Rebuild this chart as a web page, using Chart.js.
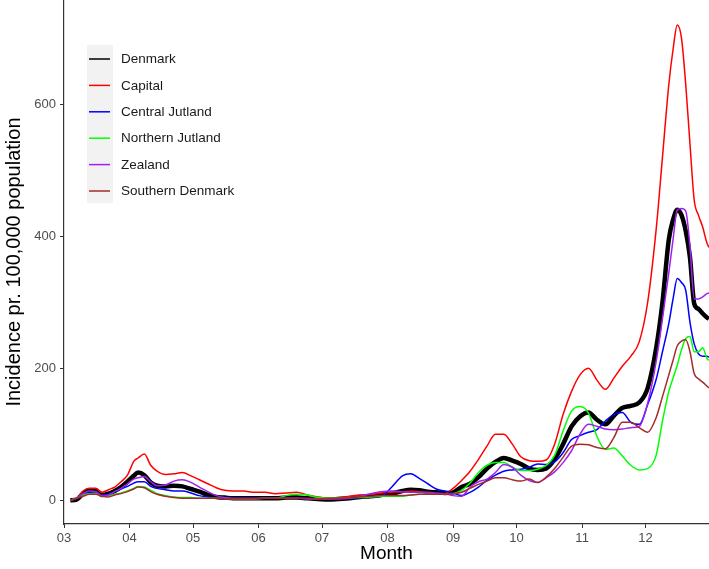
<!DOCTYPE html>
<html>
<head>
<meta charset="utf-8">
<title>Incidence by region</title>
<script src="https://cdn.jsdelivr.net/npm/chart.js@4.4.0/dist/chart.umd.min.js"></script>
<style>
  body { margin: 0; background: #fff; }
  #wrap { width: 709px; height: 569px; }
</style>
</head>
<body>
<div id="wrap"><canvas id="chart" width="709" height="569"></canvas></div>
<script>
/* Data: x = days since 1 March 2020, y = incidence pr. 100,000 */
const days = [3, 6, 9, 12, 15, 18, 21, 24, 27, 30,
  33, 35, 38, 41, 44, 48, 52, 56, 60, 64,
  68, 72, 76, 80, 85, 90, 95, 100, 105, 110,
  115, 120, 125, 130, 135, 140, 145, 150, 155, 160,
  164, 168, 172, 176, 180, 184, 188, 192, 196, 200,
  204, 208, 212, 216, 220, 224, 228, 232, 236, 240,
  244, 248, 252, 256, 260, 264, 268, 272, 276, 280,
  283, 286, 288, 290, 292, 294, 296, 298, 300, 302,
  304, 305];

const denmark = [0, 1, 10, 15, 15, 8, 10, 14, 20, 28,
  37, 42, 38, 27, 22, 21, 22, 21, 17, 13,
  8, 5, 4, 3, 3, 3, 3, 3, 4, 4,
  3, 2, 1, 2, 3, 5, 6, 8, 10, 14,
  16, 15, 13, 12, 11, 12, 20, 25, 35, 48,
  58, 64, 60, 55, 48, 46, 48, 62, 85, 112,
  127, 133, 122, 115, 128, 140, 143, 148, 170, 230,
  300, 395, 425, 440, 432, 408, 368, 298, 290, 283,
  277, 275];

const capital = [0, 3, 14, 18, 18, 12, 16, 20, 28, 38,
  59, 64, 70, 53, 44, 39, 40, 42, 37, 31,
  25, 19, 15, 14, 14, 12, 12, 10, 11, 12,
  8, 5, 3, 4, 6, 8, 9, 11, 12, 13,
  14, 13, 11, 9, 10, 18, 30, 44, 62, 82,
  100, 100, 85, 66, 60, 59, 61, 85, 130, 165,
  190, 200, 182, 168, 185, 203, 218, 240, 300, 410,
  520, 630, 683, 720, 700, 630, 540, 455, 432, 414,
  390, 383];

const centralJutland = [0, 2, 9, 12, 13, 7, 9, 13, 17, 21,
  26, 28, 28, 21, 18, 16, 14, 14, 11, 7,
  5, 3, 2, 2, 2, 2, 3, 3, 3, 3,
  2, 2, 2, 3, 3, 4, 5, 6, 20, 37,
  40, 33, 25, 17, 14, 11, 7, 12, 20, 30,
  38, 44, 46, 47, 50, 55, 54, 58, 72, 92,
  98, 103, 107, 120, 130, 133, 118, 115, 145, 183,
  225, 268, 305, 336, 330, 318, 270, 237, 222, 218,
  218, 217];

const northernJutland = [0, 4, 8, 10, 10, 6, 7, 9, 11, 14,
  18, 21, 20, 15, 10, 7, 5, 4, 4, 3,
  3, 3, 3, 2, 2, 2, 3, 3, 7, 9,
  8, 4, 3, 3, 4, 4, 5, 6, 6, 6,
  8, 9, 9, 9, 9, 10, 15, 26, 42, 53,
  57, 57, 50, 45, 45, 47, 53, 68, 105, 135,
  142, 132, 97, 77, 79, 67, 53, 46, 48, 68,
  120, 165, 185, 205, 228, 245, 248, 225, 225, 231,
  215, 212];

const zealand = [0, 3, 10, 14, 13, 7, 8, 13, 18, 25,
  32, 34, 36, 28, 22, 23, 29, 31, 27, 20,
  13, 7, 4, 3, 3, 3, 3, 3, 3, 3,
  2, 2, 2, 2, 3, 6, 10, 13, 14, 13,
  12, 12, 12, 11, 10, 7, 6, 20, 28, 32,
  42, 54, 50, 38, 30, 27, 34, 43, 57, 75,
  100, 115, 112, 108, 107, 108, 110, 112, 147, 210,
  275, 345, 395, 440, 442, 438, 385, 305, 305, 308,
  313, 314];

const southernDenmark = [0, 3, 6, 9, 9, 6, 5, 8, 10, 13,
  17, 20, 19, 13, 9, 6, 4, 3, 3, 3,
  3, 3, 2, 2, 2, 2, 3, 3, 3, 3,
  3, 2, 2, 3, 4, 5, 6, 7, 7, 7,
  8, 9, 9, 9, 9, 10, 12, 18, 24, 29,
  34, 34, 31, 29, 32, 27, 35, 48, 65, 82,
  85, 84, 80, 78, 95, 118, 118, 110, 103, 125,
  157, 190, 212, 234, 241, 243, 225, 192, 184, 179,
  173, 170];

// month starts (days since 1 March) and their labels
const monthTicks = [0, 31, 61, 92, 122, 153, 184, 214, 245, 275];
const monthLabels = ["03", "04", "05", "06", "07", "08", "09", "10", "11", "12"];
const yTicks = [0, 200, 400, 600];

const FONT = "'Liberation Sans', Arial, sans-serif";

function toPoints(values) {
  return values.map(function (v, i) { return { x: days[i], y: v }; });
}

function series(label, values, color, width, order) {
  return {
    label: label,
    data: toPoints(values),
    borderColor: color,
    backgroundColor: color,
    borderWidth: width,
    pointRadius: 0,
    cubicInterpolationMode: 'monotone',
    order: order
  };
}

// legend drawn inside the plot, ggplot style
const insideLegend = {
  id: 'insideLegend',
  afterDraw: function (chart) {
    const ctx = chart.ctx;
    const sets = chart.data.datasets;
    ctx.save();
    ctx.fillStyle = '#f2f2f2';
    ctx.fillRect(87, 45, 26, 158);
    ctx.font = '13.5px ' + FONT;
    ctx.textBaseline = 'middle';
    sets.forEach(function (ds, i) {
      const y = 59 + i * 26.4;
      ctx.strokeStyle = ds.borderColor;
      ctx.lineWidth = 1.5;
      ctx.beginPath();
      ctx.moveTo(89, y);
      ctx.lineTo(110, y);
      ctx.stroke();
      ctx.fillStyle = '#1a1a1a';
      ctx.fillText(ds.label, 121, y + 0.5);
    });
    ctx.restore();
  }
};

const ctx = document.getElementById('chart').getContext('2d');
const chart = new Chart(ctx, {
  type: 'line',
  data: {
    datasets: [
      series('Denmark', denmark, '#000000', 4.5, 6),
      series('Capital', capital, '#ff0000', 1.5, 5),
      series('Central Jutland', centralJutland, '#0000ff', 1.5, 4),
      series('Northern Jutland', northernJutland, '#00ff00', 1.5, 3),
      series('Zealand', zealand, '#a020f0', 1.5, 2),
      series('Southern Denmark', southernDenmark, '#a52a2a', 1.5, 1)
    ]
  },
  options: {
    responsive: false,
    devicePixelRatio: 1,
    animation: false,
    layout: { padding: 0 },
    plugins: {
      legend: { display: false },
      tooltip: { enabled: false }
    },
    scales: {
      x: {
        type: 'linear',
        min: 0,
        max: 305,
        afterBuildTicks: function (scale) {
          scale.ticks = monthTicks.map(function (v) { return { value: v }; });
        },
        afterFit: function (scale) {
          scale.height = 45;
          scale.paddingLeft = 0;
          scale.paddingRight = 0;
        },
        ticks: {
          autoSkip: false,
          maxRotation: 0,
          padding: 3,
          color: '#4d4d4d',
          font: { family: FONT, size: 13 },
          callback: function (value) {
            const i = monthTicks.indexOf(value);
            return i >= 0 ? monthLabels[i] : '';
          }
        },
        grid: { display: true, drawOnChartArea: false, drawTicks: true, tickLength: 4, color: '#333333', lineWidth: 1 },
        border: { display: true, color: '#333333', width: 1.2 },
        title: {
          display: true,
          text: 'Month',
          color: '#000000',
          font: { family: FONT, size: 19 },
          padding: { top: 0, bottom: 4 }
        }
      },
      y: {
        min: -36,
        max: 758,
        afterBuildTicks: function (scale) {
          scale.ticks = yTicks.map(function (v) { return { value: v }; });
        },
        afterFit: function (scale) {
          scale.width = 64;
          scale.paddingTop = 0;
          scale.paddingBottom = 0;
        },
        ticks: {
          padding: 4,
          color: '#4d4d4d',
          font: { family: FONT, size: 13 }
        },
        grid: { display: true, drawOnChartArea: false, drawTicks: true, tickLength: 4, color: '#333333', lineWidth: 1 },
        border: { display: true, color: '#333333', width: 1.2 },
        title: {
          display: true,
          text: 'Incidence pr. 100,000 population',
          color: '#000000',
          font: { family: FONT, size: 20 },
          padding: { top: 2, bottom: 0 }
        }
      }
    }
  },
  plugins: [insideLegend]
});
</script>
</body>
</html>
